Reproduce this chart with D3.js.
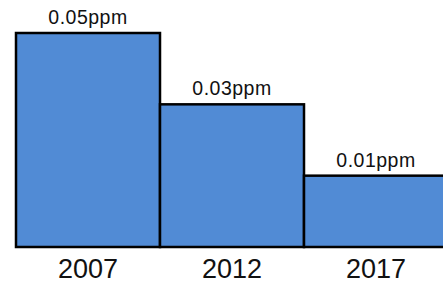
<!DOCTYPE html>
<html>
<head>
<meta charset="utf-8">
<script src="https://cdn.jsdelivr.net/npm/d3@7"></script>
<style>
  body { margin: 0; background: #fff; }
  svg { display: block; }
</style>
</head>
<body>
<div id="chart"></div>
<script>
var years = ["2007", "2012", "2017"];
var values = [0.05, 0.03, 0.01];
var labels = ["0.05ppm", "0.03ppm", "0.01ppm"];

var width = 443;
var height = 284;

var svg = d3.select("#chart")
  .append("svg")
  .attr("width", width)
  .attr("height", height);

var x = d3.scaleBand()
  .domain(years)
  .range([16, 448])
  .padding(0);

// the picture's baseline sits one step below 0.01
var y = d3.scaleLinear()
  .domain([-0.01, 0.05])
  .range([247, 33]);

var data = years.map(function (d, i) {
  return { year: d, value: values[i], label: labels[i] };
});

svg.selectAll(".bar")
  .data(data)
  .enter()
  .append("rect")
  .attr("class", "bar")
  .attr("x", d => x(d.year))
  .attr("y", d => y(d.value))
  .attr("width", x.bandwidth())
  .attr("height", d => y(-0.01) - y(d.value))
  .style("fill", "#518bd5")
  .style("stroke", "#000")
  .style("stroke-width", 2.5);

svg.selectAll(".val")
  .data(data)
  .enter()
  .append("text")
  .attr("class", "val")
  .attr("x", d => x(d.year) + x.bandwidth() / 2)
  .attr("y", d => y(d.value) - 9)
  .attr("text-anchor", "middle")
  .style("font-family", "Liberation Sans, Arial, sans-serif")
  .style("font-size", "19.5px")
  .style("letter-spacing", "0.5px")
  .style("fill", "#111")
  .text(d => d.label);

var xAxis = d3.axisBottom(x).tickSize(0).tickPadding(0);

var ax = svg.append("g")
  .attr("transform", "translate(0,247)")
  .call(xAxis);

ax.select(".domain").remove();
ax.selectAll("text")
  .attr("dy", 0)
  .attr("y", 31)
  .style("font-family", "Liberation Sans, Arial, sans-serif")
  .style("font-size", "27px")
  .style("fill", "#111");
</script>
</body>
</html>
